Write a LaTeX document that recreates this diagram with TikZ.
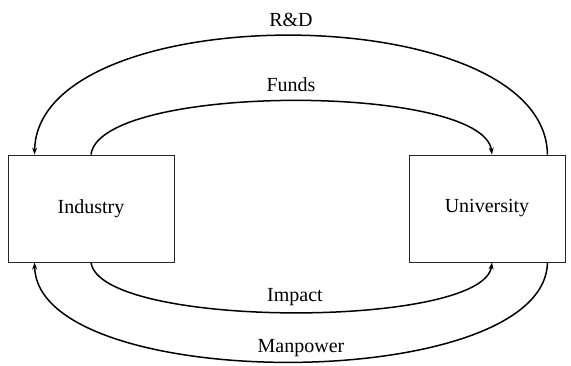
\documentclass[tikz,border=0pt]{standalone}
\usepackage{fontspec}
\setmainfont{Liberation Serif}
\usetikzlibrary{arrows.meta,calc}
\begin{document}
\begin{tikzpicture}[x=1pt,y=-1pt,
  box/.style={draw=black!85,line width=0.9pt,minimum width=166pt,minimum height=107pt,inner sep=0pt,font=\fontsize{20}{24}\selectfont},
  flow/.style={line width=1.5pt,-{Stealth[length=7pt,width=5pt]}},
  lbl/.style={font=\fontsize{20}{24}\selectfont}]
\useasboundingbox (0,0) rectangle (571,365);
\node[box] (ind) at (91,208.5) {Industry};
\node[box,minimum width=156pt] (uni) at (487,208.5) {University};
\coordinate (indL) at ($(ind.north west)+(27,0)$);
\coordinate (indLb) at ($(ind.south west)+(27,0)$);
\coordinate (uniF) at ($(uni.north)+(5,0)$);
\coordinate (uniFb) at ($(uni.south)+(5,0)$);
\coordinate (uniR) at ($(uni.north east)+(-18,0)$);
\coordinate (uniRb) at ($(uni.south east)+(-18,0)$);
\draw[flow] (uniR) .. controls (545,-4) and (37,-4) .. (indL);
\draw[flow] (ind.north) .. controls (100,83) and (483,83) .. (uniF);
\draw[flow] (ind.south) .. controls (100,329) and (483,329) .. (uniFb);
\draw[flow] (uniRb) .. controls (545,395) and (37,395) .. (indLb);
\node[lbl] (rd) at (291,20) {R\&D};
\node[lbl] (fu) at (291,85) {Funds};
\node[lbl] (im) at (295,297) {Impact};
\node[lbl] (mp) at (301,348) {Manpower};
\end{tikzpicture}
\end{document}
